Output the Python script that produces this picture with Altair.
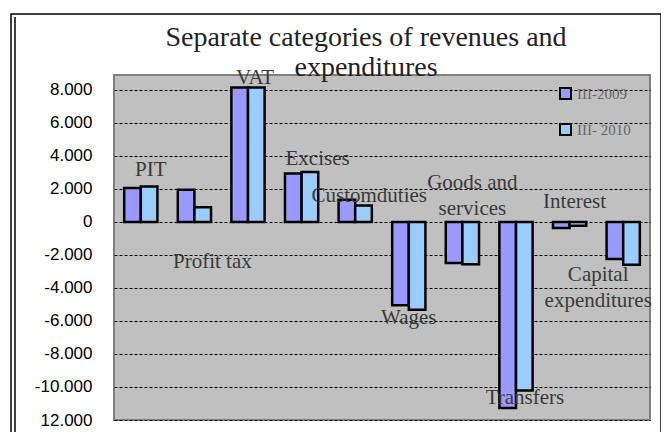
import altair as alt
import pandas as pd

categories = ["PIT", "Profit tax", "VAT", "Excises", "Custom duties", "Wages",
              "Goods and services", "Transfers", "Interest", "Capital expenditures"]
series = ["III-2009", "III- 2010"]
v2009 = [2060, 1950, 8150, 2930, 1350, -5050, -2490, -11270, -370, -2240]
v2010 = [2140, 890, 8150, 3030, 1000, -5320, -2570, -10220, -230, -2600]
label_text = ["PIT", "Profit tax", "VAT", "Excises", "Customduties", "Wages",
              "Goods and\nservices", "Transfers", "Interest", "Capital\nexpenditures"]
label_y = [3170, -2450, 8740, 3820, 1590, -5800, 2340, -10670, 1190, -3220]
label_dx = [10, 18, 7, 16, 14, 0, 10, 9, 5, -25]
y_ticks = [8000, 6000, 4000, 2000, 0, -2000, -4000, -6000, -8000, -10000, -12000]
title_lines = "Separate categories of revenues and\nexpenditures"

rows = []
for c, a, b in zip(categories, v2009, v2010):
    rows.append({"category": c, "series": series[0], "value": a})
    rows.append({"category": c, "series": series[1], "value": b})
df = pd.DataFrame(rows)

W, H = 536, 345
xscale = alt.Scale(domain=categories, paddingInner=0.38, paddingOuter=0.19)
yscale = alt.Scale(domain=[-12000, 8900], nice=False, zero=False)
yaxis = alt.Axis(values=y_ticks, grid=True, gridColor="black", gridDash=[3, 2],
                 gridWidth=1, domain=False, ticks=False, labelPadding=22,
                 labelOverlap=False, labelFlush=False, tickCount=11,
                 labelFont="Liberation Sans", labelFontSize=17, labelColor="black",
                 labelExpr="datum.value == -12000 ? '12.000' : (datum.value < 0 ? '-' : '') + replace(format(abs(datum.value), ','), ',', '.')")

bars = alt.Chart(df).mark_bar(stroke="black", strokeWidth=2.5).encode(
    x=alt.X("category:N", scale=xscale, sort=categories, axis=None),
    xOffset=alt.XOffset("series:N", sort=series),
    y=alt.Y("value:Q", scale=yscale, title=None, axis=yaxis),
    color=alt.Color("series:N", sort=series,
                    scale=alt.Scale(domain=series, range=["#9999FF", "#99CCFF"]),
                    legend=alt.Legend(title=None, orient="none", legendX=444, legendY=11,
                                      symbolType="square", symbolSize=121, symbolStrokeColor="black",
                                      symbolStrokeWidth=2, labelFont="Liberation Serif",
                                      labelFontSize=15, labelColor="#666666", rowPadding=17,
                                      padding=0, labelOffset=4)),
)

layers = [bars]
for t, yv, dx, c in zip(label_text, label_y, label_dx, categories):
    ldf = pd.DataFrame({"category": [c], "ly": [yv], "txt": [t]})
    layers.append(
        alt.Chart(ldf).mark_text(font="Liberation Serif", fontSize=21, color="#3a3a3a",
                                 dx=dx, lineBreak="\n", lineHeight=26, baseline="middle").encode(
            x=alt.X("category:N", scale=xscale, sort=categories, axis=None),
            y=alt.Y("ly:Q", scale=yscale, title=None, axis=yaxis),
            text="txt:N",
        )
    )

one = pd.DataFrame({"a": [0]})
tdf = pd.DataFrame({"t": [title_lines]})
title = alt.Chart(tdf).mark_text(font="Liberation Serif", fontSize=28, color="#222222",
                                 lineBreak="\n", lineHeight=30, baseline="middle").encode(
    x=alt.value(252), y=alt.value(-37), text="t:N")
frame = alt.Chart(one).mark_rect(fillOpacity=0, stroke="black", strokeWidth=1.5).encode(
    x=alt.value(-103), x2=alt.value(547), y=alt.value(-61), y2=alt.value(372))
inner = alt.Chart(one).mark_rule(stroke="black", strokeWidth=1.5).encode(
    x=alt.value(-99), y=alt.value(-58), y2=alt.value(372))
layers += [title, frame, inner]

chart = alt.layer(*layers).properties(
    width=W, height=H,
    autosize=alt.AutoSizeParams(type="none"),
    padding={"left": 106, "top": 67, "right": 11, "bottom": 12},
).configure(
    background="white",
    view=alt.ViewConfig(fill="#C0C0C0", stroke="#808080", strokeWidth=2),
)

chart.save("out.html", embed_options={"renderer": "svg", "actions": False})
